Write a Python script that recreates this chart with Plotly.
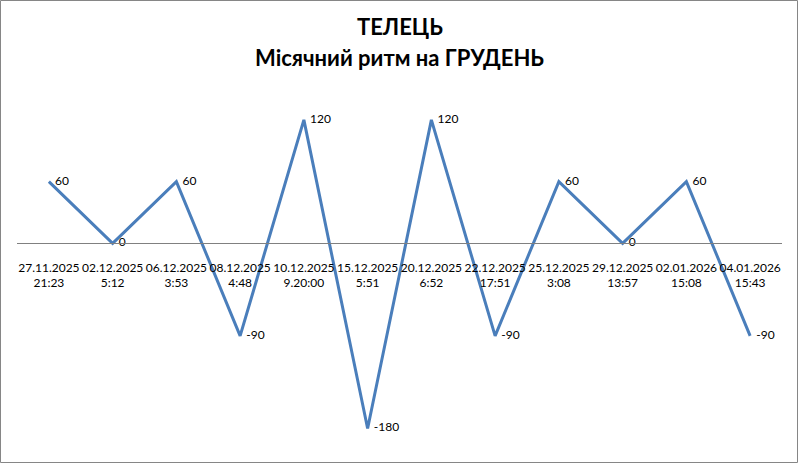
import plotly.graph_objects as go

# даты фаз (подписи категорий) и значения ритма
dates = ["27.11.2025", "02.12.2025", "06.12.2025", "08.12.2025", "10.12.2025", "15.12.2025",
         "20.12.2025", "22.12.2025", "25.12.2025", "29.12.2025", "02.01.2026", "04.01.2026"]
times = ["21:23", "5:12", "3:53", "4:48", "9.20:00", "5:51",
         "6:52", "17:51", "3:08", "13:57", "15:08", "15:43"]
values = [60, 0, 60, -90, 120, -180, 120, -90, 60, 0, 60, -90]

labels = [d + "<br>" + t for d, t in zip(dates, times)]
x = list(range(len(values)))

y_min, y_max = -200, 150
font = "Lato"

fig = go.Figure()
fig.add_trace(go.Scatter(
    x=x, y=values, mode="lines+text",
    line=dict(color="#4A7EBB", width=3),
    text=["\u00a0\u00a0" + str(v) for v in values], textposition="middle right",
    textfont=dict(family=font, size=12, color="black"),
    cliponaxis=False, showlegend=False, hoverinfo="skip",
))

W, H = 798, 463
l, r, t, b = 17, 16, 89, 14
pw, ph = W - l - r, H - t - b

fig.update_layout(
    width=W, height=H,
    margin=dict(l=l, r=r, t=t, b=b),
    paper_bgcolor="white", plot_bgcolor="white",
    xaxis=dict(
        tickmode="array", tickvals=x, ticktext=labels,
        range=[-0.5, len(values) - 0.5],
        anchor="free", position=(0 - y_min) / (y_max - y_min),
        showline=True, linecolor="#808080", linewidth=1, tickangle=0,
        ticks="", showgrid=False, zeroline=False, ticklabelstandoff=13,
        tickfont=dict(family=font, size=12, color="black"),
    ),
    yaxis=dict(range=[y_min, y_max], visible=False, showgrid=False, zeroline=False),
    shapes=[dict(type="rect", xref="paper", yref="paper",
                 x0=-(l - 0.5) / pw, x1=1 + (r - 0.5) / pw,
                 y0=-(b - 0.5) / ph, y1=1 + (t - 0.5) / ph,
                 line=dict(color="#868686", width=1))],
)

# заголовок из двух строк
for txt, ypix in [("ТЕЛЕЦЬ", 27), ("Місячний ритм на ГРУДЕНЬ", 57)]:
    fig.add_annotation(text="<b>" + txt + "</b>", xref="paper", yref="paper",
                       x=0.5, y=1 + (t - ypix) / ph, xanchor="center", yanchor="middle",
                       showarrow=False, font=dict(family=font, size=22, color="black"))

fig.write_html("out.html", config={"displayModeBar": False},
               post_script="document.body.style.margin='0';")
